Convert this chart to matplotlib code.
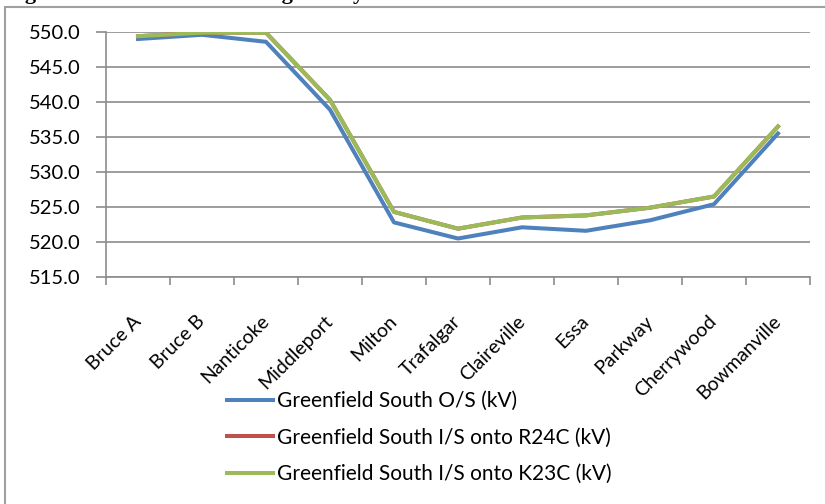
import matplotlib
matplotlib.use('Agg')
import matplotlib.pyplot as plt
import matplotlib.transforms as mtransforms
from matplotlib.patches import Rectangle
from matplotlib.ticker import FixedLocator, FormatStrFormatter
import numpy as np

# данные
stations = ['Bruce A', 'Bruce B', 'Nanticoke', 'Middleport', 'Milton', 'Trafalgar',
            'Claireville', 'Essa', 'Parkway', 'Cherrywood', 'Bowmanville']
gs_out = [549.0, 549.6, 548.6, 538.9, 522.8, 520.5, 522.1, 521.6, 523.1, 525.4, 535.5]
gs_r24c = [549.4, 549.9, 549.9, 540.3, 524.3, 521.9, 523.5, 523.8, 524.9, 526.5, 536.5]
gs_k23c = [549.4, 549.9, 549.9, 540.3, 524.3, 521.9, 523.5, 523.8, 524.9, 526.5, 536.5]
labels = ['Greenfield South O/S (kV)',
          'Greenfield South I/S onto R24C (kV)',
          'Greenfield South I/S onto K23C (kV)']
yticks = [515.0, 520.0, 525.0, 530.0, 535.0, 540.0, 545.0, 550.0]

W, H = 825, 504
font = 'Lato'
lw = 2.9

fig = plt.figure(figsize=(W / 100, H / 100), dpi=100)
ax = fig.add_axes([106 / W, 1 - 277 / H, (810 - 106) / W, (277 - 32) / H])

# рамка вокруг всей диаграммы (правый и нижний края за пределами картинки)
fig.patches.append(Rectangle((5 / W, -0.05), 1.0, 1 - 7 / H + 0.05,
                             transform=fig.transFigure, fill=False,
                             edgecolor='#a0a0a0', linewidth=1.5))

# обрезанная подпись рисунка сверху
fig.text(5 / W, 1 + 1 / H, 'Figure 10: 500 kV Path Voltage Study', family='Liberation Serif',
         fontweight='bold', fontsize=16, va='baseline', ha='left')

x = np.arange(len(stations))
ax.plot(x, gs_out, color='#4F81BD', linewidth=lw, label=labels[0], solid_joinstyle='round')
ax.plot(x, gs_r24c, color='#C0504D', linewidth=lw, label=labels[1], solid_joinstyle='round')
ax.plot(x, gs_k23c, color='#9BBB59', linewidth=lw, label=labels[2], solid_joinstyle='round')

ax.set_xlim(-0.5, len(stations) - 0.5)
ax.set_ylim(515, 550)
ax.yaxis.set_major_locator(FixedLocator(yticks))
ax.yaxis.set_major_formatter(FormatStrFormatter('%.1f'))
ax.grid(axis='y', color='#8c8c8c', linewidth=1.2)
ax.set_axisbelow(True)

for s in ['top', 'right']:
    ax.spines[s].set_visible(False)
ax.spines['left'].set_color('#8c8c8c')
ax.spines['bottom'].set_color('#8c8c8c')
ax.spines['left'].set_linewidth(1.2)
ax.spines['bottom'].set_linewidth(1.2)

# деления по оси x между категориями
ax.set_xticks(np.arange(len(stations) + 1) - 0.5)
ax.set_xticklabels([])
ax.set_xticks(x, minor=True)
ax.set_xticklabels(stations, minor=True, rotation=45, ha='right', va='top',
                   rotation_mode='anchor', family=font, fontsize=14)
ax.tick_params(axis='x', which='major', direction='out', length=6, color='#8c8c8c', width=1.2)
ax.tick_params(axis='x', which='minor', length=0, pad=25.5)
ax.tick_params(axis='y', direction='out', length=7, color='#8c8c8c', width=1.2,
               labelsize=14.5, pad=11)
for t in ax.get_yticklabels():
    t.set_family(font)

# небольшой сдвиг подписей влево
shift = mtransforms.ScaledTranslation(-6 / 100, 0, fig.dpi_scale_trans)
for t in ax.get_xticklabels(minor=True):
    t.set_transform(t.get_transform() + shift)

leg = fig.legend(loc='upper left', bbox_to_anchor=(227 / W, 1 - 391 / H), frameon=False,
                 prop={'family': font, 'size': 15}, handlelength=2.2, handletextpad=0.2,
                 labelspacing=0.8, borderaxespad=0, borderpad=0)

fig.savefig('out.png', dpi=100)
